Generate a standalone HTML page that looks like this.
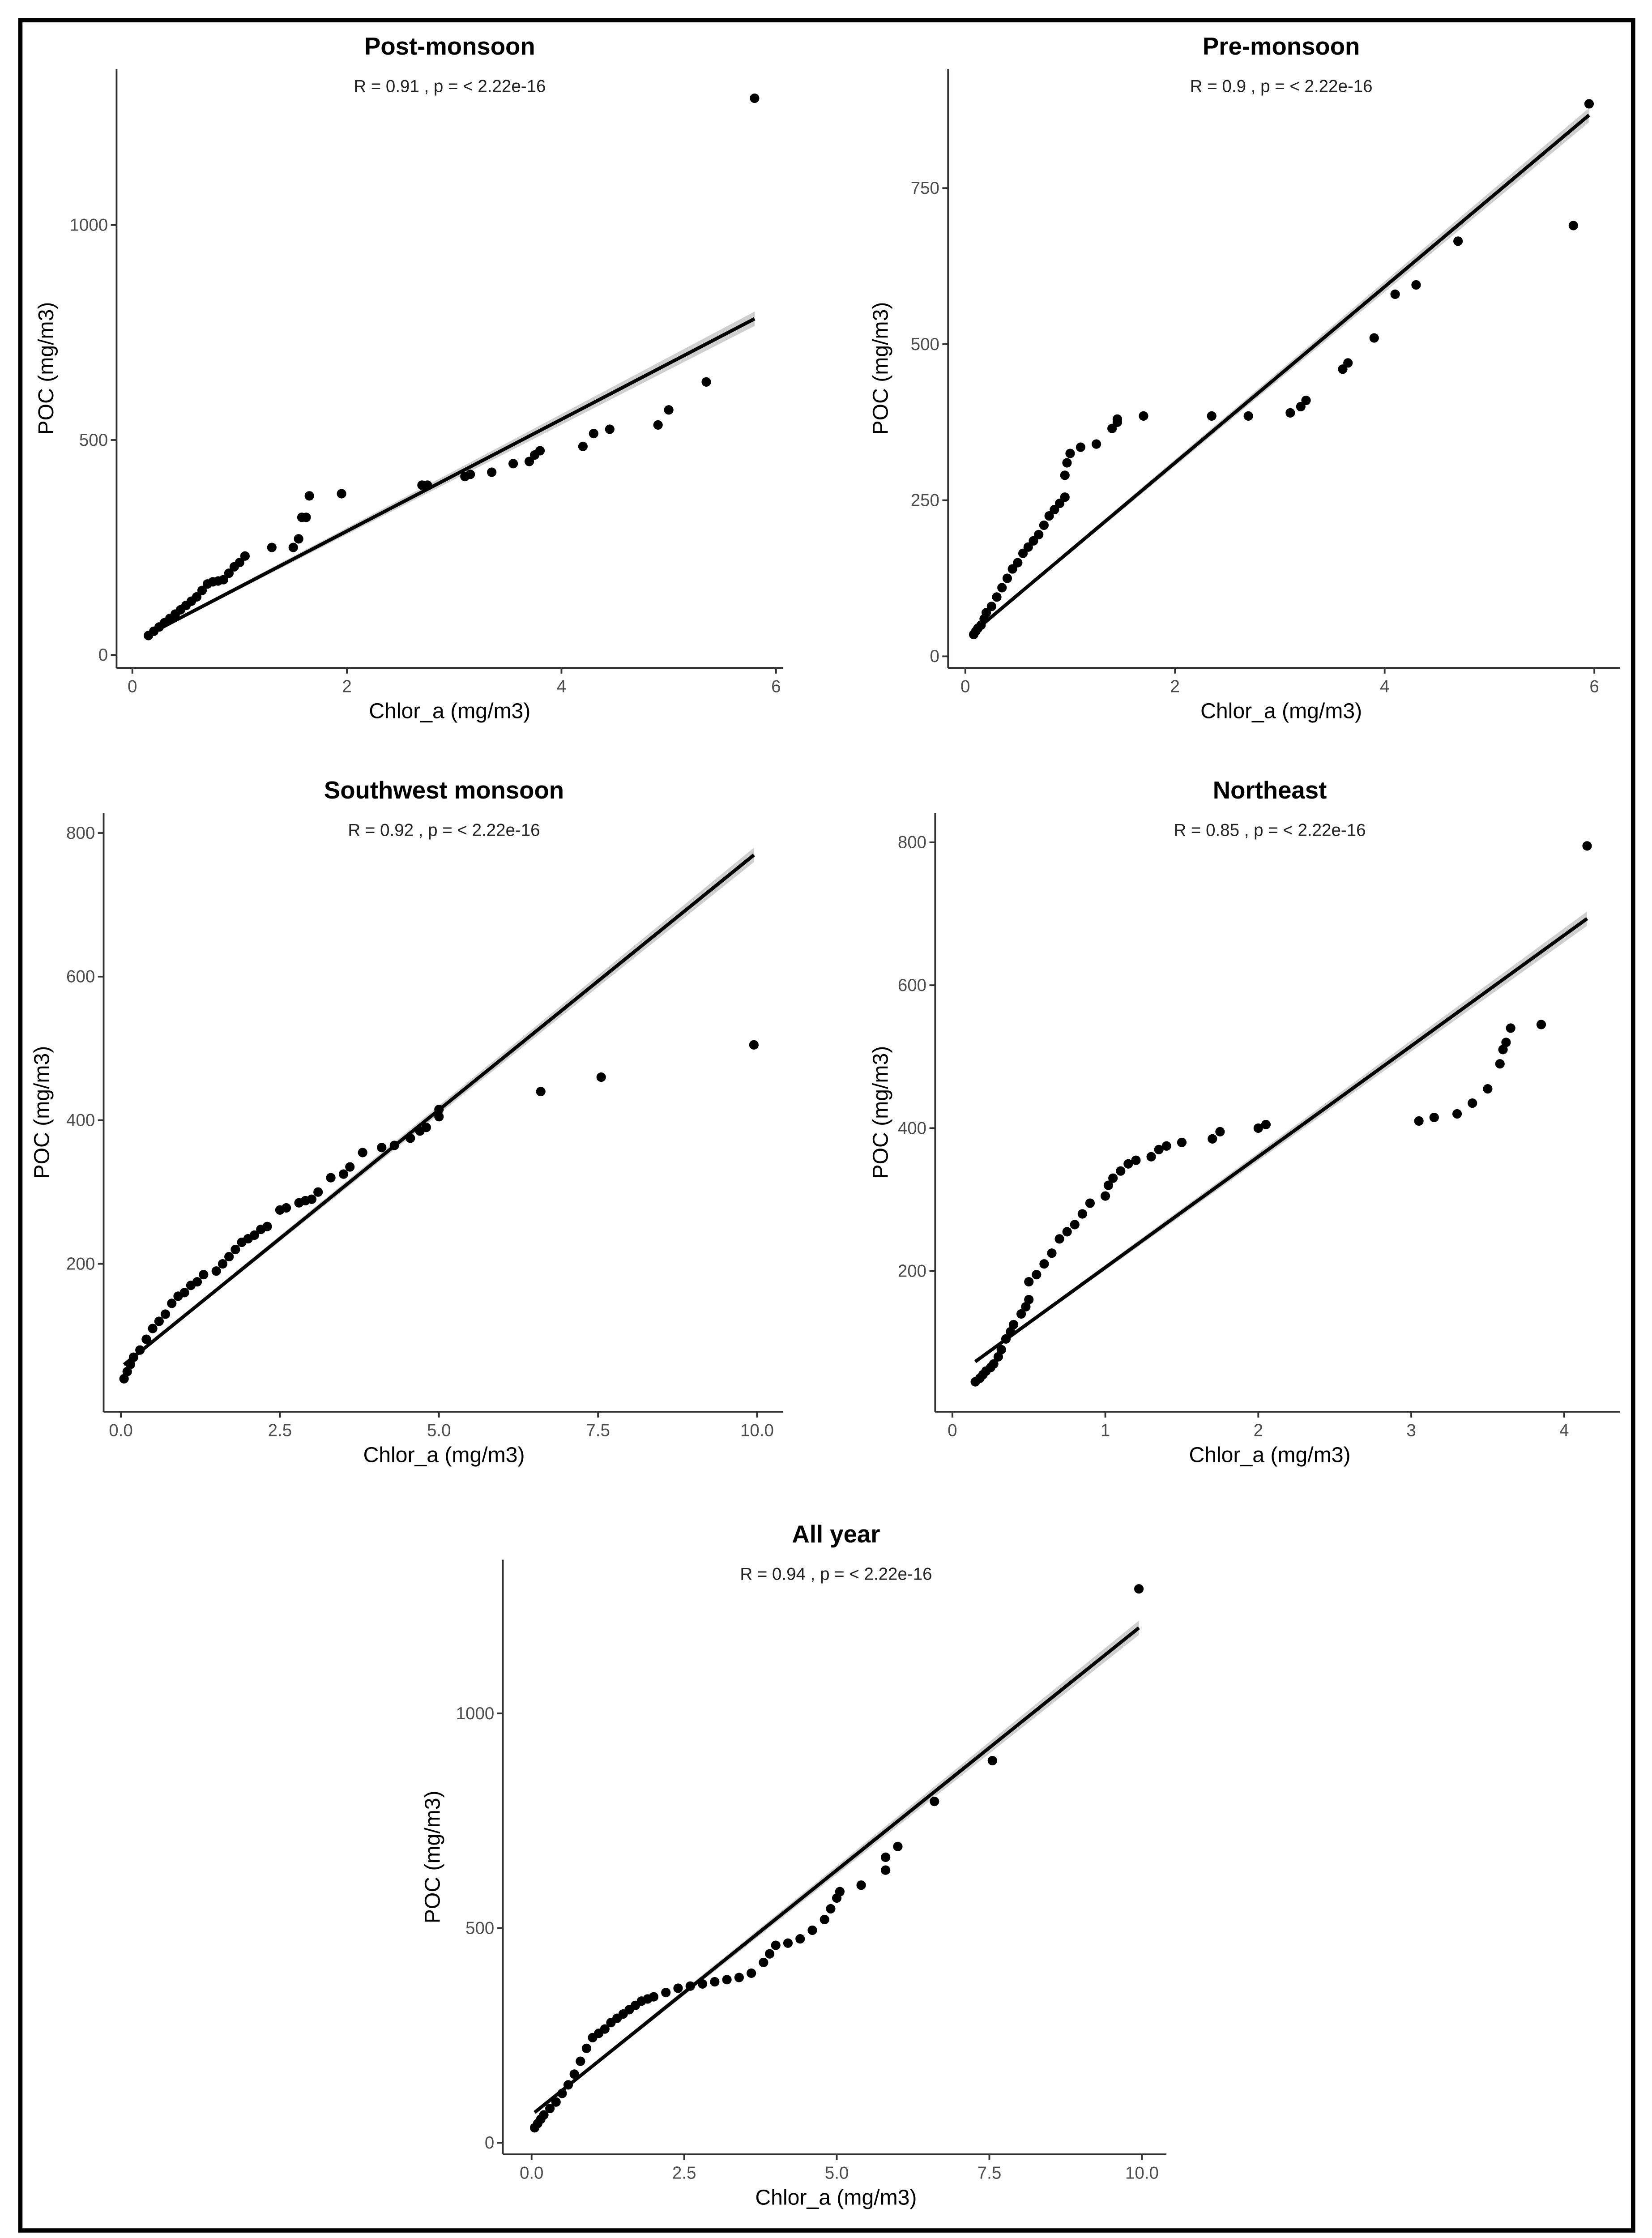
<!DOCTYPE html>
<html><head><meta charset="utf-8"><style>
html,body{margin:0;padding:0;background:#fff;overflow:hidden;width:3691px;height:5028px;}
svg{display:block;}
text{font-family:"Liberation Sans",Arial,sans-serif;}
</style></head><body>
<svg id="fig" width="3691" height="5028" viewBox="0 0 1150 1567" xmlns="http://www.w3.org/2000/svg">
<rect x="0" y="0" width="1150" height="1567" fill="#fff"/>
<rect x="14" y="14" width="1123" height="1539" fill="none" stroke="#000" stroke-width="3"/>
</svg>
<script>
// ---- data ----
const post_x=[0.15,0.2,0.25,0.3,0.35,0.4,0.45,0.5,0.55,0.6,0.65,0.7,0.75,0.8,0.85,0.9,0.95,1.0,1.05,1.3,1.5,1.55,1.58,1.62,1.65,1.95,2.7,2.75,3.1,3.15,3.35,3.55,3.7,3.75,3.8,4.2,4.3,4.45,4.9,5.0,5.35,5.8];
const post_y=[45,55,65,75,85,95,105,115,125,135,150,165,170,172,175,190,205,215,230,250,250,270,320,320,370,375,395,395,415,420,425,445,450,465,475,485,515,525,535,570,635,1295];
const post_fit=[28,130];
const pre_x=[0.08,0.1,0.12,0.15,0.18,0.2,0.25,0.3,0.35,0.4,0.45,0.5,0.55,0.6,0.65,0.7,0.75,0.8,0.85,0.9,0.95,0.95,0.97,1.0,1.1,1.25,1.4,1.45,1.45,1.7,2.35,2.7,3.1,3.2,3.25,3.6,3.65,3.9,4.1,4.3,4.7,5.8,5.95];
const pre_y=[35,40,45,50,60,70,80,95,110,125,140,150,165,175,185,195,210,225,235,245,255,290,310,325,335,340,365,375,380,385,385,385,390,400,410,460,470,510,580,595,665,690,885];
const pre_fit=[28,141];
const sw_x=[0.05,0.1,0.15,0.2,0.3,0.4,0.5,0.6,0.7,0.8,0.9,1.0,1.1,1.2,1.3,1.5,1.6,1.7,1.8,1.9,2.0,2.1,2.2,2.3,2.5,2.6,2.8,2.9,3.0,3.1,3.3,3.5,3.6,3.8,4.1,4.3,4.55,4.7,4.8,5.0,5.0,6.6,7.55,9.95];
const sw_y=[40,50,60,70,80,95,110,120,130,145,155,160,170,175,185,190,200,210,220,230,235,240,248,252,275,278,285,288,290,300,320,325,335,355,362,365,375,385,390,405,415,440,460,505];
const sw_fit=[56,71.7];
const ne_x=[0.15,0.18,0.2,0.22,0.25,0.27,0.3,0.32,0.35,0.38,0.4,0.45,0.48,0.5,0.5,0.55,0.6,0.65,0.7,0.75,0.8,0.85,0.9,1.0,1.02,1.05,1.1,1.15,1.2,1.3,1.35,1.4,1.5,1.7,1.75,2.0,2.05,3.05,3.15,3.3,3.4,3.5,3.58,3.6,3.62,3.65,3.85,4.15];
const ne_y=[45,50,55,60,65,70,80,90,105,115,125,140,150,160,185,195,210,225,245,255,265,280,295,305,320,330,340,350,355,360,370,375,380,385,395,400,405,410,415,420,435,455,490,510,520,540,545,795];
const ne_fit=[50,155];
const all_x=[0.05,0.1,0.15,0.2,0.3,0.4,0.5,0.6,0.7,0.8,0.9,1.0,1.1,1.2,1.3,1.4,1.5,1.6,1.7,1.8,1.9,2.0,2.2,2.4,2.6,2.8,3.0,3.2,3.4,3.6,3.8,3.9,4.0,4.2,4.4,4.6,4.8,4.9,5.0,5.05,5.4,5.8,5.8,6.0,6.6,7.55,9.95];
const all_y=[35,45,55,65,80,95,115,135,160,190,220,245,255,265,280,290,300,310,320,330,335,340,350,360,365,370,375,380,385,395,420,440,460,465,475,495,520,545,570,585,600,635,665,690,795,890,1290];
const all_fit=[65,114];
const post_xt=[0,2,4,6], post_yt=[0,500,1000];
const pre_xt=[0,2,4,6], pre_yt=[0,250,500,750];
const sw_xt=[0,2.5,5,7.5,10], sw_yt=[200,400,600,800];
const ne_xt=[0,1,2,3,4], ne_yt=[200,400,600,800];
const all_xt=[0,2.5,5,7.5,10], all_yt=[0,500,1000];

const NS="http://www.w3.org/2000/svg";
const svg=document.getElementById('fig');
function mk(tag,attrs,parent){const e=document.createElementNS(NS,tag);for(const k in attrs)e.setAttribute(k,attrs[k]);(parent||svg).appendChild(e);return e;}

function panel(p){
  const g=mk('g',{});
  
  
  const sx=v=>p.x0+(v-p.xa)*p.kx;
  const sy=v=>p.y0-(v-p.ya)*p.ky;
  const x1=p.xs[0], x2=Math.max(...p.xs);
  const f=v=>p.fit[0]+p.fit[1]*v;
  const band=mk('polygon',{points:`${sx(x1)},${sy(f(x1))-1} ${sx(x2)},${sy(f(x2))-5} ${sx(x2)},${sy(f(x2))+5} ${sx(x1)},${sy(f(x1))+1}`,fill:'#cfcfcf'},g);
  
  
  const ya=mk('line',{x1:p.ax,y1:p.top,x2:p.ax,y2:p.ay,stroke:'#333','stroke-width':1.2},g);
  
  
  const xa=mk('line',{x1:p.ax,y1:p.ay,x2:p.right,y2:p.ay,stroke:'#333','stroke-width':1.2},g);
  
  
  p.xt.forEach(t=>{
    mk('line',{x1:sx(t),y1:p.ay,x2:sx(t),y2:p.ay+4,stroke:'#333','stroke-width':1.2},g);
    const tx=mk('text',{x:sx(t),y:p.ay+17,'font-size':12,fill:'#4d4d4d','text-anchor':'middle'},g);
    tx.textContent=p.dec?t.toFixed(1):String(t);
    
    
  });
  p.yt.forEach(t=>{
    mk('line',{x1:p.ax-4,y1:sy(t),x2:p.ax,y2:sy(t),stroke:'#333','stroke-width':1.2},g);
    const tx=mk('text',{x:p.ax-6,y:sy(t)+4,'font-size':12,fill:'#4d4d4d','text-anchor':'end'},g);
    tx.textContent=String(t);
    
    
  });
  const fl=mk('line',{x1:sx(x1),y1:sy(f(x1)),x2:sx(x2),y2:sy(f(x2)),stroke:'#000','stroke-width':2.4},g);
  
  
  p.xs.forEach((v,i)=>{
    const c=mk('circle',{cx:sx(v),cy:sy(p.ys[i]),r:3.3,fill:'#000'},g);
    
    
  });
  const ti=mk('text',{x:p.tcx,y:p.ty,'font-size':17,'font-weight':'bold','text-anchor':'middle',fill:'#000'},g);
  ti.textContent=p.title;
  
  
  const rt=mk('text',{x:p.tcx,y:p.ty+26,'font-size':12,'text-anchor':'middle',fill:'#222'},g);
  rt.textContent=p.rtxt;
  
  
  const xl=mk('text',{x:p.tcx,y:p.ay+35,'font-size':15,'text-anchor':'middle',fill:'#000'},g);
  xl.textContent='Chlor_a (mg/m3)';
  
  
  const ly=(p.top+p.ay)/2;
  const yl=mk('text',{x:0,y:0,'font-size':15,'text-anchor':'middle',fill:'#000',transform:`translate(${p.ylx},${ly}) rotate(-90)`},g);
  yl.textContent='POC (mg/m3)';
  
  
}

panel({id:'post-monsoon',title:'Post-monsoon',rtxt:'R =  0.91 , p =  < 2.22e-16',xs:post_x,ys:post_y,fit:post_fit,xt:post_xt,yt:post_yt,
  x0:92,xa:0,kx:74.7,y0:456,ya:0,ky:0.2993,ax:81,ay:465,top:48,right:545,tcx:313,ty:38,ylx:37});
panel({id:'pre-monsoon',title:'Pre-monsoon',rtxt:'R =  0.9 , p =  < 2.22e-16',xs:pre_x,ys:pre_y,fit:pre_fit,xt:pre_xt,yt:pre_yt,
  x0:672,xa:0,kx:73,y0:457,ya:0,ky:0.4347,ax:660,ay:465,top:48,right:1128,tcx:892,ty:38,ylx:618});
panel({id:'southwest-monsoon',title:'Southwest monsoon',rtxt:'R =  0.92 , p =  < 2.22e-16',xs:sw_x,ys:sw_y,fit:sw_fit,xt:sw_xt,yt:sw_yt,dec:true,
  x0:84,xa:0,kx:44.3,y0:880,ya:200,ky:0.5,ax:72,ay:983,top:566,right:545,tcx:309,ty:556,ylx:34});
panel({id:'northeast',title:'Northeast',rtxt:'R =  0.85 , p =  < 2.22e-16',xs:ne_x,ys:ne_y,fit:ne_fit,xt:ne_xt,yt:ne_yt,
  x0:663,xa:0,kx:106.5,y0:885,ya:200,ky:0.4975,ax:651,ay:983,top:566,right:1128,tcx:884,ty:556,ylx:618});
panel({id:'all-year',title:'All year',rtxt:'R =  0.94 , p =  < 2.22e-16',xs:all_x,ys:all_y,fit:all_fit,xt:all_xt,yt:all_yt,dec:true,
  x0:370,xa:0,kx:42.5,y0:1492,ya:0,ky:0.299,ax:350,ay:1500,top:1086,right:812,tcx:582,ty:1074,ylx:306});
</script>
</body></html>
